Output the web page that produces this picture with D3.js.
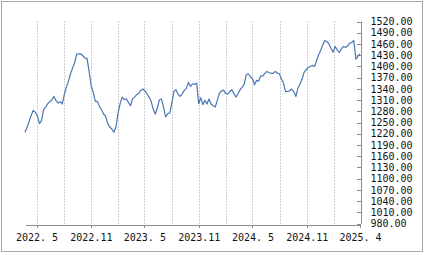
<!DOCTYPE html>
<html>
<head>
<meta charset="utf-8">
<script src="https://cdn.jsdelivr.net/npm/d3@7"></script>
<style>
    body { margin: 0; background: #fff; }
    #chart { display: block; }
    .frame { fill: #fff; stroke: #a8a8a8; stroke-width: 1; }
    .grid line { stroke: #a0a0a0; stroke-dasharray: 1,2; }
    .axis path, .axis line { stroke: #8c8c8c; shape-rendering: crispEdges; }
    .axis text { font-family: "DejaVu Sans Mono", monospace; font-size: 10px; fill: #111; }
    .price.line { fill: none; stroke: #4a76b4; stroke-width: 1.2; stroke-linejoin: round; }
</style>
</head>
<body>
<svg id="chart" width="425" height="255">
    <rect class="frame" x="1.5" y="1.5" width="421" height="250"></rect>
    <g class="grid"></g>
    <g class="x axis"></g>
    <g class="y axis"></g>
    <path class="price line"></path>
</svg>
<script>
    // weekly closes, first week starting 2022-03-23
    const startDate = new Date(2022, 2, 23);
    const closes = [
        1223.8, 1237.1, 1253.1, 1269.1, 1282.5, 1277.1, 1268.2, 1246.9, 1255.8, 1284.2,
        1291.4, 1300.3, 1305.6, 1310.9, 1319.8, 1308.3, 1302.0, 1305.6, 1299.4, 1324.3,
        1344.7, 1359.9, 1380.3, 1395.4, 1408.8, 1432.8, 1433.7, 1433.7, 1428.4, 1422.1,
        1421.2, 1386.5, 1348.3, 1330.5, 1306.5, 1306.5, 1293.1, 1284.2, 1272.7, 1266.5,
        1246.9, 1238.0, 1232.6, 1223.8, 1238.0, 1275.3, 1300.3, 1318.0, 1310.9, 1313.6,
        1303.8, 1294.9, 1312.7, 1318.0, 1324.3, 1328.7, 1335.8, 1339.4, 1334.1, 1326.9,
        1318.0, 1306.5, 1286.0, 1272.7, 1288.7, 1310.9, 1312.7, 1291.4, 1264.7, 1273.6,
        1275.3, 1302.0, 1333.2, 1337.6, 1326.1, 1319.8, 1326.1, 1335.8, 1341.2, 1357.2,
        1346.5, 1353.6, 1351.9, 1355.4, 1300.3, 1316.3, 1297.6, 1309.2, 1299.4, 1312.7,
        1299.4, 1294.9, 1291.4, 1309.2, 1328.7, 1334.1, 1336.7, 1327.8, 1326.1, 1332.3,
        1337.6, 1327.8, 1318.0, 1326.9, 1337.6, 1343.8, 1352.7, 1377.7, 1380.3, 1372.3,
        1367.0, 1351.0, 1362.5, 1360.7, 1375.0, 1374.1, 1381.2, 1386.5, 1383.0, 1382.1,
        1381.2, 1386.5, 1382.1, 1380.3, 1366.1, 1355.4, 1332.3, 1333.2, 1334.9, 1339.4,
        1332.3, 1319.8, 1342.1, 1352.7, 1366.1, 1384.8, 1391.0, 1397.2, 1399.9, 1402.6,
        1399.9, 1415.0, 1431.0, 1442.6, 1457.7, 1469.3, 1466.6, 1459.5, 1447.9, 1438.1,
        1453.3, 1443.5, 1437.3, 1447.0, 1453.3, 1450.6, 1455.0, 1462.2, 1463.9, 1469.3,
        1419.5, 1426.6, 1433.7
    ];
    const labelDates = ["2022-05-01", "2022-11-01", "2023-05-01", "2023-11-01", "2024-05-01", "2024-11-01", "2025-04-30"];
    const gridDates = ["2022-05-01", "2022-08-01", "2022-11-01", "2023-02-01", "2023-05-01", "2023-08-01",
                       "2023-11-01", "2024-02-01", "2024-05-01", "2024-08-01", "2024-11-01", "2025-02-01"];
    const yTicks = [980, 1010, 1040, 1070, 1100, 1130, 1160, 1190, 1220, 1250, 1280,
                    1310, 1340, 1370, 1400, 1430, 1460, 1490, 1520];

    const margin = {top: 21.5, right: 65, bottom: 31, left: 25};
    const width = 425 - margin.left - margin.right;
    const height = 255 - margin.top - margin.bottom - 0.5;

    const parse = d3.timeParse("%Y-%m-%d");
    const data = closes.map((v, i) => ({date: d3.timeDay.offset(startDate, i * 7), value: v}));

    const xScale = d3.scaleTime()
        .domain(d3.extent(data, d => d.date))
        .range([margin.left, margin.left + width]);
    const yScale = d3.scaleLinear()
        .domain([980, 1520])
        .range([margin.top + height, margin.top]);

    const svg = d3.select("#chart");

    // dotted verticals
    svg.select(".grid").selectAll("line")
        .data(gridDates.map(parse))
        .enter().append("line")
            .attr("x1", d => Math.round(xScale(d)) + 0.5)
            .attr("x2", d => Math.round(xScale(d)) + 0.5)
            .attr("y1", yScale(1520))
            .attr("y2", yScale(980));

    svg.select(".x.axis")
        .attr("transform", "translate(0," + (Math.round(yScale(980)) + 0.5) + ")")
        .call(d3.axisBottom(xScale)
            .tickValues(labelDates.map(parse))
            .tickFormat(d3.timeFormat("%Y.%_m"))
            .tickSizeInner(3)
            .tickSizeOuter(0)
            .tickPadding(6));

    svg.select(".y.axis")
        .attr("transform", "translate(" + (Math.round(xScale.range()[1]) + 0.5) + ",0)")
        .call(d3.axisRight(yScale)
            .tickValues(yTicks)
            .tickFormat(d3.format(".2f"))
            .tickSizeInner(-4)
            .tickSizeOuter(0)
            .tickPadding(10));

    const line = d3.line()
        .x(d => xScale(d.date))
        .y(d => yScale(d.value));

    svg.select(".price.line").datum(data).attr("d", line);
</script>
</body>
</html>
